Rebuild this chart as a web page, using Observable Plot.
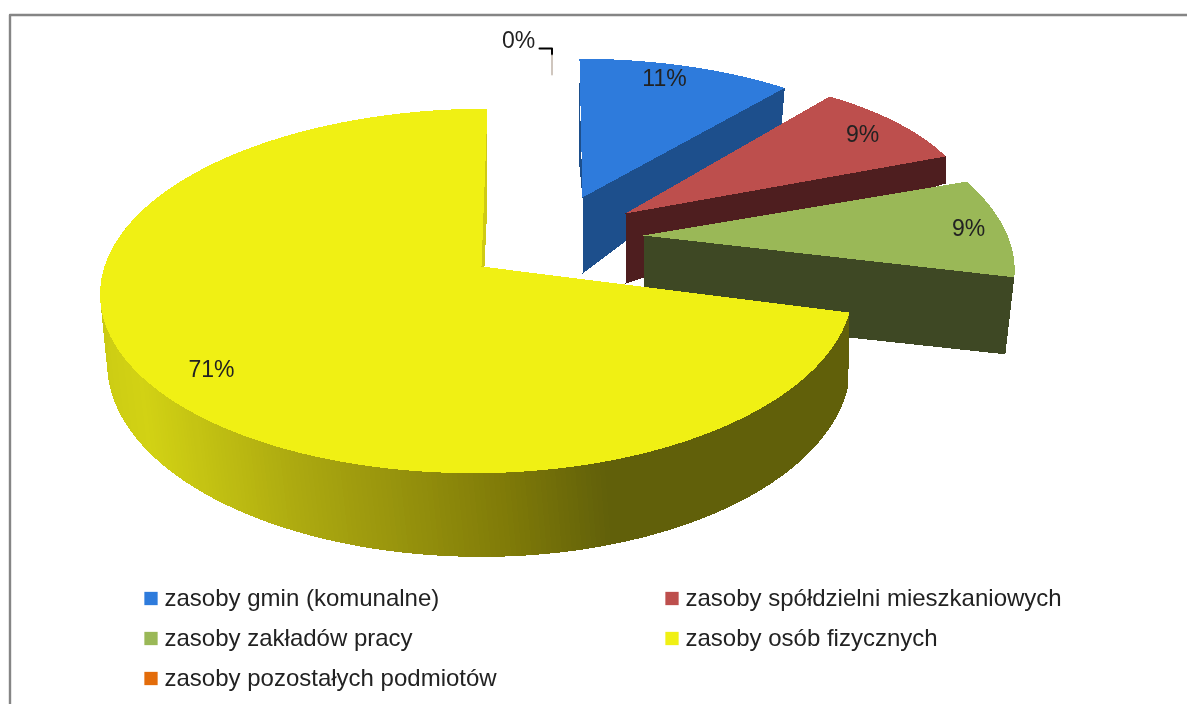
<!DOCTYPE html>
<html>
<head>
<meta charset="utf-8">
<script src="https://cdn.jsdelivr.net/npm/d3@7"></script>
<script src="https://cdn.jsdelivr.net/npm/@observablehq/plot@0.6"></script>
<style>
html,body{margin:0;padding:0;background:#fff;overflow:hidden}
svg{display:block}
svg text{filter:blur(0.5px)}
</style>
</head>
<body>
<div id="chart"></div>
<script>
const categories = ["zasoby gmin (komunalne)", "zasoby spółdzielni mieszkaniowych", "zasoby zakładów pracy", "zasoby osób fizycznych", "zasoby pozostałych podmiotów"];
const values = [11, 9, 9, 71, 0];
const labels = ["11%", "9%", "9%", "71%", "0%"];
const faceColors = ["#2E7BDC", "#BD4F4D", "#9AB857", "#F0F014", "#E36C0A"];
const wallColors = ["#1D4F8C", "#4E1E1F", "#3E4824", "#61600A", "#8A4106"];

// Perspective views of each exploded slice (layout only).
const views = [
  {cx:582, cy:197, k:.117, ry:155, rxL:350, rxR:350, shx:-3.4, shy:0, apexDepth:76, outerDepth:37, outerDx:-3},
  {cx:625, cy:213, k:.117, ry:156, rxL:349, rxR:349, shx:0, shy:-11.5, apexDepth:70, outerDepth:27, outerDx:0},
  {cx:643, cy:235, k:.117, ry:173, rxL:363, rxR:363, shx:-34, shy:-2.5, apexDepth:80, outerDepth:77, outerDx:-9},
  {cx:481, cy:266, k:.134, ry:179, rxL:377, rxR:369, shx:6.8, shy:0, apexDepth:0, outerDepth:0, outerDx:0},
  {cx:481, cy:266, k:.134, ry:179, rxL:377, rxR:369, shx:6.8, shy:0, apexDepth:0, outerDepth:0, outerDx:0}
];
const yellowBase = {cx:481, cy:337, k:.134, ry:190, rxL:371, rxR:366, shx:0, shy:0};
const wallStops = [104, 112, 150, 306, 420, 510, 610, 860];
const wallRamp = ["#C8C814", "#CDCD14", "#D2D214", "#ABA810", "#938F0C", "#7F7A08", "#61600A", "#61600A"];
const wallShade = d3.scaleLinear().domain(wallStops).range(wallRamp).clamp(true);

function project(v, a) {
  const X = Math.sin(a), Y = Math.cos(a), w = 1 + v.k * Y;
  const rx = X < 0 ? v.rxL : v.rxR;
  return {x: v.cx + rx * X / w + v.shx * Y / w, y: v.cy - v.ry * Y / w + v.shy * X / w};
}

const total = d3.sum(values);
const slices = [];
let acc = 0;
values.forEach((value, i) => {
  const start = acc / total * 2 * Math.PI;
  acc += value;
  slices.push({i, value, start, end: acc / total * 2 * Math.PI});
});

const pts = [];
let nid = 0;
function poly(points, color) {
  const id = nid++;
  for (const p of points) pts.push({id, x: p.x, y: p.y, fill: color});
}
function arc(v, a0, a1) {
  const n = Math.max(2, Math.ceil((a1 - a0) * 120));
  return d3.range(n + 1).map(j => project(v, a0 + (a1 - a0) * j / n));
}

// Slices 0-2: end cut face, back sliver, top face
[0, 1, 2].forEach(i => {
  const s = slices[i], v = views[i];
  const apex = {x: v.cx, y: v.cy};
  const e = project(v, s.end);
  poly([apex, e, {x: e.x + v.outerDx, y: e.y + v.outerDepth}, {x: apex.x, y: apex.y + v.apexDepth}], wallColors[i]);
  if (i === 0) {
    const b = project(v, s.start);
    poly([{x: b.x, y: b.y + 22}, {x: b.x, y: b.y + 108}, apex], wallColors[0]);
  }
  poly([apex, ...arc(v, s.start, s.end)], faceColors[i]);
});

// Yellow slice: outer wall in shaded strips, cut sliver, top face
{
  const s = slices[3], v = views[3];
  const wallEnd = 285 * Math.PI / 180;
  const step = (wallEnd - s.start) / 260;
  for (let j = 0; j < 260; j++) {
    const a0 = s.start + j * step, a1 = a0 + step * 1.6;
    const t0 = project(v, a0), t1 = project(v, a1);
    const b0 = project(yellowBase, a0), b1 = project(yellowBase, a1);
    poly([t0, t1, b1, b0], wallShade((b0.x + b1.x) / 2));
  }
  const top = project(v, s.end);
  poly([top, {x: top.x, y: top.y + 95}, {x: v.cx + 3, y: v.cy}, {x: v.cx, y: v.cy}], "#CFCB14");
  poly([{x: v.cx, y: v.cy}, ...arc(v, s.start, s.end)], faceColors[3]);
}

const legendRows = [
  {i:0, col:0, row:0}, {i:1, col:1, row:0},
  {i:2, col:0, row:1}, {i:3, col:1, row:1},
  {i:4, col:0, row:2}
];
const colX = [144, 665], rowY = [598, 638, 678];
const legend = legendRows.map(r => ({
  name: categories[r.i], color: faceColors[r.i], x: colX[r.col], y: rowY[r.row]
}));
const percentLabels = [
  {text: labels[0], x: 664, y: 78},
  {text: labels[1], x: 862, y: 134},
  {text: labels[2], x: 968, y: 228},
  {text: labels[3], x: 211, y: 369},
  {text: labels[4], x: 518, y: 40}
];
const leaderDark = [{x:539,y:48},{x:551.5,y:48},{x:551.5,y:55}];
const leaderLight = [{x:551.5,y:55},{x:551.5,y:74}];
const frame = [{x:1187,y:14.5},{x:9.5,y:14.5},{x:9.5,y:704}];

const chart = Plot.plot({
  width: 1187, height: 704,
  margin: 0,
  x: {type:"linear", domain:[0,1187], range:[0,1187], axis:null},
  y: {type:"linear", domain:[0,704], range:[0,704], axis:null},
  color: {type:"identity"},
  style: {background:"#fff"},
  marks: [
    Plot.line(frame, {x:"x", y:"y", stroke:"#858585", strokeWidth:2.4}),
    Plot.line(pts, {x:"x", y:"y", z:"id", fill:"fill", stroke:"none", curve:"linear-closed", shapeRendering:"crispEdges"}),
    Plot.line(leaderDark, {x:"x", y:"y", stroke:"#000", strokeWidth:2}),
    Plot.line(leaderLight, {x:"x", y:"y", stroke:"#CFC6BE", strokeWidth:2}),
    Plot.text(percentLabels, {x:"x", y:"y", text:"text", fontSize:23, fontFamily:"Liberation Sans", fill:"#222", textAnchor:"middle"}),
    Plot.dot(legend, {x: d => d.x + 6.5, y: d => d.y, symbol:"square", r:7.5, fill:"color", stroke:"none"}),
    Plot.text(legend, {x: d => d.x + 20, y: d => d.y, text:"name", fontSize:24, fontFamily:"Liberation Sans", fill:"#222", textAnchor:"start"})
  ]
});
document.getElementById("chart").appendChild(chart);
</script>
</body>
</html>
